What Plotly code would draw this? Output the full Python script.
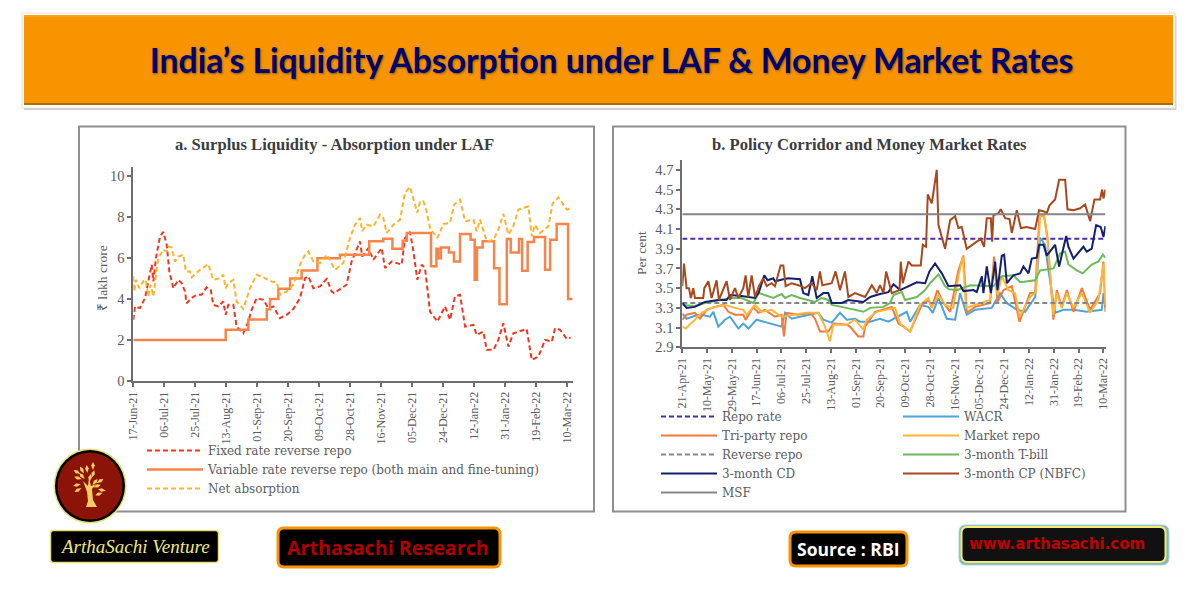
import math

import pandas as pd
import plotly.graph_objects as go

# the page body keeps its 8px margin, so the figure is smaller than the window
# and all positions below are given in window pixels
W = 1185
H = 585
BODY = 8

# panel a - day counts from 17-Jun-21, values in lakh crore
fixed_days = [0, 1, 4.1, 7.2, 9.2, 11.3, 12.3, 13.9, 16.4, 18.4, 20.5, 22.1, 24.6, 27.6, 29.7, 31.7, 32.7, 35.8, 38.9, 41.9, 45, 47.5, 49.1, 52.2, 55.2, 56.7, 58.3, 61.4, 63.4, 67.5, 70.6, 72.6, 75.7, 79.8, 82.9, 85.9, 90, 94.1, 98.2, 102.3, 105.4, 107.4, 110.5, 114.6, 118.7, 121.8, 123.2, 126.8, 130.9, 134, 139.1, 140.5, 144.2, 147.3, 152.4, 154.5, 158.6, 164.7, 166.7, 169.8, 171.9, 174.3, 177, 179, 182.1, 186.6, 191.3, 194.4, 197.4, 200.5, 203.6, 208.7, 210.7, 214.8, 216.9, 221, 224, 227.1, 230.2, 233.2, 241.4, 244.5, 248.6, 252.7, 256.8, 258.9, 261.9, 266, 268.4]
fixed_vals = [2.99, 3.64, 3.56, 4.05, 4.86, 5.68, 4.86, 6.0, 7.06, 7.28, 6.66, 5.35, 4.53, 4.94, 4.78, 4.37, 3.8, 4.05, 4.21, 4.21, 4.57, 4.45, 3.72, 3.64, 3.88, 3.23, 3.72, 3.72, 2.66, 2.33, 2.9, 3.47, 4.05, 3.96, 3.56, 3.64, 3.07, 3.23, 3.51, 4.05, 5.02, 5.11, 4.53, 4.62, 4.99, 4.37, 4.29, 4.5, 4.7, 5.84, 6.82, 6.08, 6.49, 5.92, 6.49, 5.51, 5.84, 5.68, 6.98, 7.28, 6.33, 4.94, 5.68, 5.51, 3.39, 2.9, 3.64, 2.99, 4.13, 4.21, 2.66, 2.74, 2.25, 2.41, 1.52, 1.52, 2.01, 2.82, 1.68, 2.33, 2.54, 1.03, 1.19, 2.01, 1.92, 2.58, 2.5, 2.06, 2.12]

variable_days = [0, 56.7, 70.6, 81.9, 83.9, 89, 96.2, 103.3, 113, 126.8, 144.8, 153.4, 159, 165.3, 167.8, 182.7, 186, 187.2, 188.8, 193.7, 196.8, 200.5, 207, 209.5, 210.9, 214.4, 221.4, 224.7, 229.2, 231.6, 236.7, 238.6, 242, 245.9, 252.7, 255.8, 259.8, 266.8, 269.7]
variable_vals = [2.0, 2.5, 3.0, 3.5, 4.0, 4.5, 5.0, 5.4, 6.0, 6.17, 6.82, 6.95, 6.46, 6.85, 7.23, 5.6, 6.46, 6.0, 6.52, 6.28, 5.84, 7.18, 6.9, 4.94, 6.52, 6.82, 5.5, 3.75, 6.93, 6.28, 6.93, 5.38, 6.79, 7.03, 5.43, 6.9, 7.67, 4.0, 4.0]

net_days = [0, 0.6, 1.6, 3.7, 6, 7.6, 9.2, 10.6, 12.3, 15.3, 18.4, 20.5, 21.5, 23.5, 25.6, 27.6, 30.7, 32.3, 34.8, 35.8, 40.9, 46, 49.1, 53.2, 55.2, 56.7, 58.3, 61.4, 63.4, 65.1, 67.5, 71.6, 75.7, 79.8, 84.9, 88, 90, 94.1, 98.2, 102.3, 104.8, 107.4, 110.5, 114.6, 118.7, 123.8, 128.9, 133, 136, 139.1, 140.5, 143.2, 147.3, 151.4, 153.4, 155.5, 159.6, 163.7, 166.7, 169.8, 171.9, 174.3, 176, 178, 180, 182.1, 186.6, 190.3, 194.4, 196.8, 200.5, 203.6, 208.7, 210.7, 212.8, 216.9, 221, 224, 227.1, 230.2, 233.2, 236.3, 242.5, 244.5, 246.5, 249.6, 254.7, 257.4, 260.9, 266, 269.7]
net_vals = [5.1, 4.37, 4.94, 4.53, 4.86, 4.94, 4.13, 4.7, 4.13, 6.0, 6.41, 6.33, 6.57, 6.53, 5.84, 6.08, 6.17, 5.35, 5.35, 5.06, 5.43, 5.71, 4.94, 5.02, 5.19, 4.53, 4.78, 4.94, 3.88, 3.72, 3.52, 4.53, 5.19, 5.06, 4.86, 4.83, 4.21, 4.37, 4.7, 5.68, 6.08, 6.33, 5.84, 5.76, 6.17, 5.43, 5.76, 6.98, 7.63, 7.96, 7.31, 7.63, 7.55, 8.12, 7.96, 7.23, 7.63, 7.88, 9.18, 9.48, 8.86, 8.21, 8.78, 8.78, 8.29, 7.47, 6.98, 7.67, 7.72, 8.61, 8.86, 7.8, 7.88, 7.31, 7.88, 6.82, 6.9, 7.39, 8.16, 7.15, 7.55, 8.37, 8.53, 7.06, 7.63, 7.23, 7.55, 8.69, 8.97, 8.37, 8.45]

# panel b - day counts from 21-Apr-21, values in per cent
rate_end_day = [0, 324.6]
repo_vals = [4.0, 4.0]
reverse_vals = [3.35, 3.35]
msf_vals = [4.25, 4.25]

wacr_days = [0, 3.3, 9.7, 14.8, 21.2, 23.8, 27.6, 32.7, 36.6, 43, 46.8, 50.6, 57, 62.1, 68.5, 76.2, 78.8, 83.9, 90.3, 96.7, 104.3, 108.2, 114.6, 121, 126.1, 132.5, 136.4, 144.1, 151.7, 158.1, 172.2, 174.8, 182.4, 188.8, 192.2, 196.5, 202.9, 209.3, 213.1, 218.2, 224.6, 237.4, 243.8, 248.9, 256.6, 263, 270.7, 274.5, 278.3, 280.9, 286, 292.4, 300.1, 310.3, 321.8, 323.1, 324.6]
wacr_vals = [3.24, 3.19, 3.22, 3.23, 3.21, 3.26, 3.11, 3.18, 3.21, 3.09, 3.14, 3.09, 3.18, 3.16, 3.14, 3.11, 3.25, 3.19, 3.21, 3.23, 3.25, 3.18, 3.15, 3.25, 3.18, 3.19, 3.16, 3.16, 3.19, 3.16, 3.26, 3.16, 3.33, 3.31, 3.25, 3.4, 3.19, 3.18, 3.45, 3.23, 3.28, 3.3, 3.45, 3.35, 3.28, 3.26, 3.41, 4.01, 3.94, 3.68, 3.25, 3.28, 3.28, 3.26, 3.28, 3.45, 3.3]

triparty_days = [0, 3.3, 9.7, 13.6, 18.7, 25.1, 31.5, 35.3, 40.4, 46.8, 48.6, 54.5, 58.3, 63.4, 71.1, 76.2, 78, 80, 89, 98, 101.8, 105.6, 112, 115.9, 126.1, 128.6, 135, 138.9, 140.2, 147.9, 160.7, 165.8, 169.6, 174.8, 183.7, 188.8, 191.4, 195.7, 200.3, 205.5, 211.8, 215.7, 218.2, 224.6, 236.1, 239.2, 241.8, 246.4, 252.8, 258.7, 266.8, 270.7, 274, 277.6, 280.1, 284.7, 287.3, 291.1, 295, 300.1, 306.5, 312.9, 320.5, 323.1, 324.6]
triparty_vals = [3.18, 3.23, 3.25, 3.19, 3.28, 3.31, 3.33, 3.26, 3.23, 3.23, 3.18, 3.31, 3.25, 3.28, 3.21, 3.23, 3.01, 3.25, 3.23, 3.25, 3.19, 3.06, 3.06, 3.14, 3.13, 3.11, 3.01, 3.01, 3.11, 3.26, 3.31, 3.14, 3.11, 3.06, 3.33, 3.38, 3.3, 3.48, 3.35, 3.26, 3.68, 3.83, 3.25, 3.31, 3.35, 3.82, 3.36, 3.48, 3.52, 3.16, 3.45, 3.45, 4.24, 4.23, 4.02, 3.18, 3.48, 3.31, 3.48, 3.26, 3.5, 3.28, 3.45, 3.77, 3.26]

market_days = [0, 2.6, 9.7, 14.8, 22.5, 32.7, 40.4, 46.8, 49.4, 55.8, 60.9, 68.5, 76.2, 86.4, 95.4, 104.3, 109.5, 113.3, 115.9, 126.1, 132.5, 138.9, 141.5, 149.2, 163.3, 167.1, 174.8, 182.4, 188.8, 191.4, 196.5, 201.6, 208, 211.8, 215.2, 217.7, 224.6, 236.1, 239.2, 241.8, 245.1, 250.2, 255.3, 258.7, 266.8, 271.2, 274.5, 277.6, 280.1, 284.7, 287.3, 291.1, 295, 300.1, 306.5, 312.9, 319.3, 323.1, 324.6]
market_vals = [3.11, 3.09, 3.18, 3.25, 3.3, 3.33, 3.3, 3.28, 3.23, 3.33, 3.26, 3.28, 3.21, 3.23, 3.25, 3.25, 3.11, 2.96, 3.13, 3.13, 3.18, 3.08, 3.18, 3.26, 3.3, 3.14, 3.06, 3.33, 3.4, 3.3, 3.43, 3.33, 3.3, 3.62, 3.82, 3.3, 3.33, 3.38, 3.75, 3.43, 3.62, 3.48, 3.45, 3.21, 3.41, 3.46, 4.23, 4.23, 3.99, 3.23, 3.45, 3.3, 3.45, 3.3, 3.45, 3.25, 3.38, 3.75, 3.33]

tbill_days = [0, 9.7, 17.4, 27.6, 36.6, 45.5, 54.5, 58.8, 63.4, 69.8, 76.2, 78.8, 83.9, 90.3, 101.8, 107, 112, 114.6, 122.3, 132.5, 138.9, 144.1, 154.3, 159.4, 162, 168.4, 170.9, 179.9, 186.3, 190.1, 196.5, 201.6, 204.2, 210.6, 220.8, 238.7, 245.1, 254, 259.2, 270.7, 274.5, 284.8, 289.8, 293.7, 296.2, 302.6, 307.2, 314.1, 319.3, 322.6, 324.6]
tbill_vals = [3.33, 3.32, 3.35, 3.38, 3.4, 3.4, 3.35, 3.45, 3.43, 3.4, 3.44, 3.4, 3.43, 3.4, 3.36, 3.4, 3.38, 3.33, 3.31, 3.28, 3.26, 3.3, 3.31, 3.35, 3.43, 3.46, 3.38, 3.41, 3.48, 3.55, 3.64, 3.52, 3.49, 3.48, 3.53, 3.52, 3.62, 3.63, 3.56, 3.58, 3.68, 3.7, 3.85, 3.87, 3.74, 3.68, 3.65, 3.74, 3.77, 3.84, 3.81]

cd_days = [0, 3.3, 9.7, 17.4, 27.6, 34, 36.6, 45.5, 55.8, 58.8, 62.9, 65.5, 69.8, 71.1, 77.5, 81.3, 90.3, 92.8, 96.7, 99.7, 103.1, 108.2, 112, 114.6, 122.3, 127.4, 138.9, 144.1, 151.7, 158.1, 162, 167.1, 179.9, 186.3, 189.6, 193.9, 199.1, 204.2, 213.1, 215.7, 223.4, 225.9, 229.8, 231, 233.6, 236.7, 240, 241.8, 245.1, 246.9, 249, 254, 259.2, 261.7, 265.6, 268.1, 272, 273.7, 277.1, 279.6, 286, 289.1, 294.5, 296.2, 300.1, 307.7, 310.3, 314.1, 317.5, 321, 323.1, 324.6]
cd_vals = [3.35, 3.3, 3.31, 3.36, 3.38, 3.38, 3.43, 3.42, 3.4, 3.46, 3.63, 3.58, 3.6, 3.57, 3.59, 3.6, 3.59, 3.45, 3.43, 3.62, 3.4, 3.45, 3.45, 3.35, 3.35, 3.38, 3.36, 3.41, 3.44, 3.46, 3.54, 3.48, 3.56, 3.55, 3.67, 3.75, 3.65, 3.52, 3.53, 3.47, 3.48, 3.46, 3.62, 3.45, 3.72, 3.45, 3.77, 3.48, 3.83, 3.84, 3.55, 3.63, 3.65, 3.72, 3.65, 3.8, 3.81, 3.94, 3.94, 3.83, 3.94, 3.72, 4.03, 3.92, 3.8, 3.92, 3.87, 3.9, 4.14, 4.12, 4.02, 4.13]

cp_days = [0, 1.3, 3.3, 5.1, 6.6, 8.4, 9.7, 16, 16.9, 20, 22.5, 26.3, 28.1, 34, 36.6, 40.4, 43, 46.8, 48.6, 50.6, 53.2, 55.8, 58.8, 62.1, 64.7, 68.5, 71.1, 75.4, 77.5, 79.3, 83.9, 89, 94.1, 99.2, 103.1, 105.6, 107.4, 114.6, 117.6, 121, 124.8, 127.4, 132.5, 140.2, 145.4, 149.2, 151.7, 154.3, 156.4, 160.7, 166.6, 167.6, 169.1, 173.5, 176, 182.9, 184.5, 187, 188.3, 191.4, 195.2, 196.5, 201.6, 205.5, 209.3, 211.8, 214.4, 218.2, 224.6, 229, 231.5, 233.6, 236.7, 237.7, 238.7, 242.5, 244.3, 247.7, 251, 252.8, 256.6, 259.7, 264.3, 270.7, 273.7, 277.1, 279.6, 281.7, 286, 289.1, 293.7, 295.5, 300.1, 305.2, 309, 312.9, 316.2, 320.5, 322.1, 323.1, 324.6]
cp_vals = [3.52, 3.75, 3.5, 3.5, 3.4, 3.5, 3.4, 3.4, 3.5, 3.57, 3.4, 3.58, 3.38, 3.57, 3.38, 3.5, 3.4, 3.5, 3.63, 3.41, 3.63, 3.41, 3.52, 3.6, 3.52, 3.55, 3.52, 3.73, 3.73, 3.52, 3.55, 3.53, 3.5, 3.55, 3.48, 3.67, 3.53, 3.55, 3.67, 3.48, 3.67, 3.41, 3.45, 3.41, 3.53, 3.45, 3.53, 3.45, 3.67, 3.45, 3.48, 3.77, 3.55, 3.77, 3.73, 3.73, 3.94, 3.92, 4.45, 4.36, 4.7, 4.14, 3.9, 4.19, 4.23, 4.11, 4.12, 3.9, 3.96, 4.0, 3.92, 4.21, 4.21, 3.97, 4.24, 4.26, 4.3, 4.21, 4.2, 4.06, 4.29, 4.11, 4.12, 4.1, 4.29, 4.28, 4.26, 4.34, 4.4, 4.6, 4.6, 4.3, 4.29, 4.31, 4.35, 4.18, 4.4, 4.4, 4.5, 4.41, 4.5]

# logo leaves as x, y, angle in degrees
leaf_x = [77, 82, 87, 93, 100, 102, 97, 78, 77, 82, 90, 95, 78, 93, 99]
leaf_y = [472, 470, 469, 474, 481, 490, 486, 478, 485, 476, 478, 482, 490, 466, 494]
leaf_angle = [30, 60, 85, 110, 150, 10, 160, 20, -15, 50, 100, 130, -30, 90, -20]


def fx(px):
    return (px - BODY) / W


def fy(py):
    return 1 - (py - BODY) / H


def dates_from(start, days):
    return pd.Timestamp(start) + pd.to_timedelta(days, unit="D")


def rect(x0, y0, x1, y1, fill, line="rgba(0,0,0,0)", width=0):
    return dict(type="rect", xref="paper", yref="paper", x0=fx(x0), x1=fx(x1), y0=fy(y0), y1=fy(y1),
                fillcolor=fill, line=dict(color=line, width=width), layer="below")


def path_shape(points, fill):
    d = "M " + " L ".join(f"{fx(a):.5f},{fy(b):.5f}" for a, b in points) + " Z"
    return dict(type="path", xref="paper", yref="paper", path=d, fillcolor=fill, line=dict(width=0))


def round_box(x0, y0, x1, y1, r, fill, line, width):
    # rounded corners with quadratic curves
    d = (f"M {fx(x0 + r):.5f},{fy(y0):.5f} L {fx(x1 - r):.5f},{fy(y0):.5f} "
         f"Q {fx(x1):.5f},{fy(y0):.5f} {fx(x1):.5f},{fy(y0 + r):.5f} "
         f"L {fx(x1):.5f},{fy(y1 - r):.5f} Q {fx(x1):.5f},{fy(y1):.5f} {fx(x1 - r):.5f},{fy(y1):.5f} "
         f"L {fx(x0 + r):.5f},{fy(y1):.5f} Q {fx(x0):.5f},{fy(y1):.5f} {fx(x0):.5f},{fy(y1 - r):.5f} "
         f"L {fx(x0):.5f},{fy(y0 + r):.5f} Q {fx(x0):.5f},{fy(y0):.5f} {fx(x0 + r):.5f},{fy(y0):.5f} Z")
    return dict(type="path", xref="paper", yref="paper", path=d, fillcolor=fill,
                line=dict(color=line, width=width), layer="below")


def ellipse(cx, cy, rx, ry, fill):
    return dict(type="circle", xref="paper", yref="paper", x0=fx(cx - rx), x1=fx(cx + rx), y0=fy(cy + ry), y1=fy(cy - ry),
                fillcolor=fill, line=dict(width=0))


def leaf(cx, cy, angle):
    c, s = math.cos(math.radians(angle)), math.sin(math.radians(angle))
    pts = [(cx - 4 * c, cy - 4 * s), (cx - 0.5 * c + 1.8 * s, cy - 0.5 * s - 1.8 * c),
           (cx + 4 * c, cy + 4 * s), (cx - 0.5 * c - 1.8 * s, cy - 0.5 * s + 1.8 * c)]
    return path_shape(pts, "#F2CC62")


def label(px, py, text, size, color, family, bold=False, italic=False, angle=0):
    return dict(x=fx(px), y=fy(py), xref="paper", yref="paper", text=text, showarrow=False,
                xanchor="center", yanchor="middle", textangle=angle,
                font=dict(family=family, size=size, color=color, weight="bold" if bold else "normal",
                          style="italic" if italic else "normal"))


SERIF = "Liberation Serif"
GREY_TEXT = "#5C5C60"
start_a = "2021-06-17"
start_b = "2021-04-21"

fig = go.Figure()

fig.add_trace(go.Scatter(x=dates_from(start_a, fixed_days), y=fixed_vals, name="Fixed rate reverse repo", mode="lines",
                         line=dict(color="#F5341F", width=2, dash="5px,3px")))
fig.add_trace(go.Scatter(x=dates_from(start_a, variable_days), y=variable_vals, mode="lines",
                         name="Variable rate reverse repo (both main and fine-tuning)",
                         line=dict(color="#F9844A", width=2.5, shape="hv")))
fig.add_trace(go.Scatter(x=dates_from(start_a, net_days), y=net_vals, name="Net absorption", mode="lines",
                         line=dict(color="#FDB32B", width=2, dash="5px,3px")))

# left column of the panel b legend goes to legend2, right column to legend3
panel_b = [
    ("Repo rate", rate_end_day, repo_vals, "#4B2CA8", "5px,3px", "legend2"),
    ("WACR", wacr_days, wacr_vals, "#4BA5DC", None, "legend3"),
    ("Tri-party repo", triparty_days, triparty_vals, "#F4793B", None, "legend2"),
    ("Market repo", market_days, market_vals, "#FDB63A", None, "legend3"),
    ("Reverse repo", rate_end_day, reverse_vals, "#85858A", "5px,3px", "legend2"),
    ("3-month T-bill", tbill_days, tbill_vals, "#6CBB5A", None, "legend3"),
    ("3-month CD", cd_days, cd_vals, "#14206E", None, "legend2"),
    ("3-month CP (NBFC)", cp_days, cp_vals, "#A8481E", None, "legend3"),
    ("MSF", rate_end_day, msf_vals, "#85858A", None, "legend2"),
]
for name, days, vals, color, dash, which in panel_b:
    fig.add_trace(go.Scatter(x=dates_from(start_b, days), y=vals, name=name, mode="lines", xaxis="x2", yaxis="y2",
                             legend=which, line=dict(color=color, width=2, dash=dash)))

axis_style = dict(showline=True, linecolor="#6E6E72", linewidth=2, showgrid=False, zeroline=False,
                  ticks="outside", ticklen=4, tickcolor="#6E6E72", tickwidth=1.5)
x_style = dict(axis_style, type="date", tickformat="%d-%b-%y", dtick=19 * 86400000, tickangle=-90,
               tickfont=dict(family=SERIF, size=12, color=GREY_TEXT))
y_style = dict(axis_style, tickfont=dict(family=SERIF, size=14.5, color=GREY_TEXT))
legend_style = dict(bgcolor="rgba(0,0,0,0)", itemwidth=56, xanchor="left", yanchor="top",
                    font=dict(family="DejaVu Serif", size=12, color=GREY_TEXT))

shapes = [
    rect(24, 16, 1176.5, 110, "#CFCFCF"),
    rect(22, 13, 1175, 108, "#FFFFFF", "#E2E2E2", 1),
    rect(24, 15, 1173, 105, "#F79400"),
    rect(24, 103, 1173, 105, "#B06E00"),
    rect(24, 15, 1173, 17, "#FBA21F"),
    rect(79, 126.5, 594, 511.5, "#FFFFFF", "#8F8F92", 2),
    rect(613, 126.5, 1125.5, 511.5, "#FFFFFF", "#8F8F92", 2),
    round_box(50.5, 530.5, 218.5, 562.5, 3, "#000000", "#E8E070", 1.5),
    round_box(278, 528, 500, 567, 6, "#000000", "#F79400", 3),
    round_box(790, 532, 907, 566, 6, "#000000", "#F79400", 3),
    round_box(959, 525, 1169, 565, 7, "#7FB6C4", "#A9D2DB", 1),
    round_box(961.5, 527, 1165.5, 562, 6, "#111111", "#F4EC6C", 2),
    ellipse(90, 486, 36.5, 37.5, "#E6E07A"),
    ellipse(90, 486, 35, 36, "#000000"),
    ellipse(90, 486, 32.5, 33.5, "#8B1308"),
    path_shape([(86, 507), (97, 507), (93, 500), (92, 489), (96, 484), (91, 486), (89, 478), (88, 486), (83, 481), (87, 492), (88, 501)], "#F2CC62"),
]
shapes += [leaf(a, b, c) for a, b, c in zip(leaf_x, leaf_y, leaf_angle)]

annotations = [
    label(334.5, 144, "a. Surplus Liquidity - Absorption under LAF", 16.6, "#3C3C40", SERIF, bold=True),
    label(869, 144, "b. Policy Corridor and Money Market Rates", 16.6, "#3C3C40", SERIF, bold=True),
    label(102, 278, "₹ lakh crore", 13.5, GREY_TEXT, SERIF, angle=-90),
    label(641, 253, "Per cent", 13.5, GREY_TEXT, SERIF, angle=-90),
    label(135, 546, "ArthaSachi Venture", 19, "#EFE97C", SERIF, italic=True),
    label(387.5, 547, "Arthasachi Research", 19.7, "#B00000", "Open Sans", bold=True),
    label(848, 549, "Source : RBI", 17.5, "#FFFFFF", "Open Sans", bold=True),
    label(1057, 544, "www.arthasachi.com", 15, "#C00000", "DejaVu Sans", bold=True),
]

fig.update_layout(
    width=W,
    height=H,
    autosize=False,
    margin=dict(l=0, r=0, t=0, b=0, autoexpand=False),
    paper_bgcolor="#FFFFFF",
    plot_bgcolor="rgba(0,0,0,0)",
    title=dict(text="India’s Liquidity Absorption under LAF & Money Market Rates", x=fx(611.5), y=fy(61),
               xanchor="center", yanchor="middle",
               font=dict(family="Lato", size=33.7, color="#000070", weight="bold", shadow="1px 1px 2px #8A5A00")),
    xaxis=dict(x_style, domain=[fx(133.3), fx(572.6)], anchor="y", range=["2021-06-17", "2022-03-13 14:00"], tick0=start_a),
    yaxis=dict(y_style, domain=[fy(381), fy(167)], anchor="x", range=[0, 10.45], tick0=0, dtick=2),
    xaxis2=dict(x_style, domain=[fx(682.3), fx(1105.5)], anchor="y2", range=["2021-04-21", "2022-03-11 16:00"], tick0=start_b),
    yaxis2=dict(y_style, domain=[fy(347.3), fy(160)], anchor="x2", range=[2.9, 4.8], tick0=2.9, dtick=0.2, tickformat=".1f"),
    legend=dict(legend_style, x=fx(142), y=fy(436)),
    legend2=dict(legend_style, x=fx(656), y=fy(402)),
    legend3=dict(legend_style, x=fx(898), y=fy(402)),
    shapes=shapes,
    annotations=annotations,
)

fig.write_html("out.html")
